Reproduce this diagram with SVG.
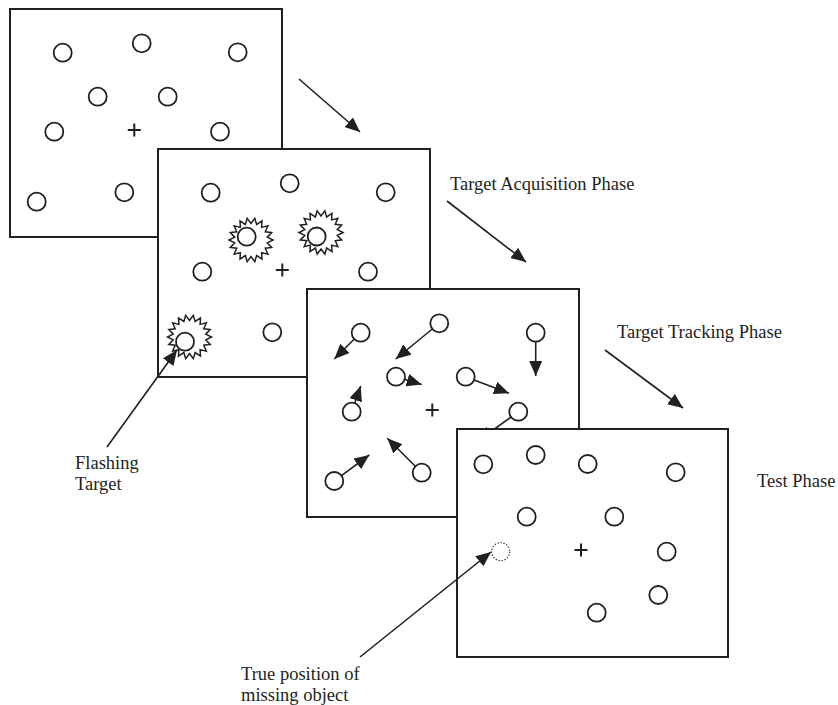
<svg xmlns="http://www.w3.org/2000/svg" width="838" height="705" viewBox="0 0 838 705">
<style>
.panel{fill:#fff;stroke:#231f20;stroke-width:2}
.c{fill:#fff;stroke:#231f20;stroke-width:1.8}
.dot{fill:#fff;stroke:#231f20;stroke-width:1.2;stroke-dasharray:1.2 1.8}
.x{stroke:#231f20;stroke-width:2;fill:none}
.burst{fill:#fff;stroke:#231f20;stroke-width:1.5;stroke-linejoin:miter}
.mv{stroke:#231f20;stroke-width:1.6;fill:none;marker-end:url(#ah)}
.conn{stroke:#231f20;stroke-width:1.6;fill:none;marker-end:url(#ah)}
text{font-family:"Liberation Serif","Times New Roman",serif;font-size:18.5px;fill:#231f20}
</style>
<defs>
<marker id="ah" markerUnits="userSpaceOnUse" markerWidth="15" markerHeight="13" refX="15" refY="6.5" orient="auto">
<path d="M0,0 L15,6.5 L0,13 z" fill="#231f20"/>
</marker>
<polygon id="burst" class="burst" points="22,0 16.25,2.86 20.67,7.52 14.29,8.25 16.85,14.14 10.61,12.64 11,19.05 5.64,15.51 3.82,21.67 0,16.5 -3.82,21.67 -5.64,15.51 -11,19.05 -10.61,12.64 -16.85,14.14 -14.29,8.25 -20.67,7.52 -16.25,2.86 -22,0 -16.25,-2.86 -20.67,-7.52 -14.29,-8.25 -16.85,-14.14 -10.61,-12.64 -11,-19.05 -5.64,-15.51 -3.82,-21.67 0,-16.5 3.82,-21.67 5.64,-15.51 11,-19.05 10.61,-12.64 16.85,-14.14 14.29,-8.25 20.67,-7.52 16.25,-2.86"/>
<path id="cross" class="x" d="M-6.5,0 H6.5 M0,-6.5 V6.5"/>
</defs>

<g id="panel1">
<rect class="panel" x="10" y="9" width="272" height="228"/>
<circle class="c" cx="62.7" cy="52.7" r="9"/>
<circle class="c" cx="141.7" cy="43.3" r="9"/>
<circle class="c" cx="237.7" cy="52.3" r="9"/>
<circle class="c" cx="97.7" cy="96.7" r="9"/>
<circle class="c" cx="167.7" cy="96.7" r="9"/>
<circle class="c" cx="54.3" cy="131.7" r="9"/>
<circle class="c" cx="220" cy="131.7" r="9"/>
<circle class="c" cx="36.7" cy="201.7" r="9"/>
<circle class="c" cx="124.3" cy="192.3" r="9"/>
<use href="#cross" x="134.3" y="130"/>
</g>

<g id="panel2">
<rect class="panel" x="158" y="149" width="272" height="228"/>
<circle class="c" cx="210.7" cy="192.7" r="9"/>
<circle class="c" cx="289.7" cy="183.3" r="9"/>
<circle class="c" cx="385.7" cy="192.3" r="9"/>
<circle class="c" cx="202.3" cy="271.7" r="9"/>
<circle class="c" cx="368" cy="271.7" r="9"/>
<circle class="c" cx="272.3" cy="332.3" r="9"/>
<use href="#burst" x="251" y="240"/>
<circle class="c" cx="246.7" cy="236.7" r="9"/>
<use href="#burst" x="321" y="232.5"/>
<circle class="c" cx="316.7" cy="236.5" r="9"/>
<use href="#burst" x="189.5" y="337"/>
<circle class="c" cx="185" cy="341.7" r="9"/>
<use href="#cross" x="282.3" y="270"/>
</g>

<g id="panel3">
<rect class="panel" x="307" y="289" width="272" height="228"/>
<line class="mv" x1="354.3" y1="339" x2="334.3" y2="359"/>
<circle class="c" cx="360.7" cy="332.7" r="9"/>
<line class="mv" x1="432.3" y1="329" x2="395.7" y2="359"/>
<circle class="c" cx="439.3" cy="323.3" r="9"/>
<line class="mv" x1="535.7" y1="341.7" x2="535.7" y2="376"/>
<circle class="c" cx="535.7" cy="332.7" r="9"/>
<line class="mv" x1="404.6" y1="379.3" x2="421.7" y2="384.5"/>
<circle class="c" cx="396" cy="376.7" r="9"/>
<line class="mv" x1="474.1" y1="379.9" x2="509" y2="393.3"/>
<circle class="c" cx="465.7" cy="376.7" r="9"/>
<line class="mv" x1="354.7" y1="403.2" x2="360.7" y2="386"/>
<circle class="c" cx="351.7" cy="411.7" r="9"/>
<line class="mv" x1="415.3" y1="466.3" x2="387.3" y2="438.3"/>
<circle class="c" cx="421.7" cy="472.7" r="9"/>
<line class="mv" x1="341.5" y1="475.6" x2="369.3" y2="455"/>
<circle class="c" cx="334.3" cy="481" r="9"/>
<line class="mv" x1="511" y1="417" x2="478" y2="441"/>
<circle class="c" cx="518.3" cy="411.7" r="9"/>
<use href="#cross" x="432.3" y="410"/>
</g>

<g id="panel4">
<rect class="panel" x="457" y="429" width="271" height="228"/>
<circle class="c" cx="483.3" cy="464.3" r="9"/>
<circle class="c" cx="535.7" cy="455" r="9"/>
<circle class="c" cx="587.7" cy="464" r="9"/>
<circle class="c" cx="675.7" cy="472.3" r="9"/>
<circle class="c" cx="526.7" cy="516.7" r="9"/>
<circle class="c" cx="614.3" cy="516.7" r="9"/>
<circle class="dot" cx="500.7" cy="551.7" r="9"/>
<circle class="c" cx="666.7" cy="551.7" r="9"/>
<circle class="c" cx="658.3" cy="595" r="9"/>
<circle class="c" cx="596.7" cy="612.7" r="9"/>
<use href="#cross" x="581" y="550"/>
</g>

<g id="connectors">
<line class="conn" x1="299" y1="79" x2="360" y2="132"/>
<line class="conn" x1="447" y1="201" x2="526" y2="262"/>
<line class="conn" x1="605" y1="350" x2="683" y2="408"/>
<line class="conn" x1="107" y1="447" x2="177" y2="350"/>
<line class="conn" x1="360" y1="657" x2="491" y2="552"/>
</g>

<g id="labels">
<text x="450" y="190">Target Acquisition Phase</text>
<text x="617" y="338">Target Tracking Phase</text>
<text x="757" y="487">Test Phase</text>
<text x="75" y="469">Flashing</text>
<text x="75" y="490">Target</text>
<text x="241" y="680">True position of</text>
<text x="241" y="701">missing object</text>
</g>
</svg>
